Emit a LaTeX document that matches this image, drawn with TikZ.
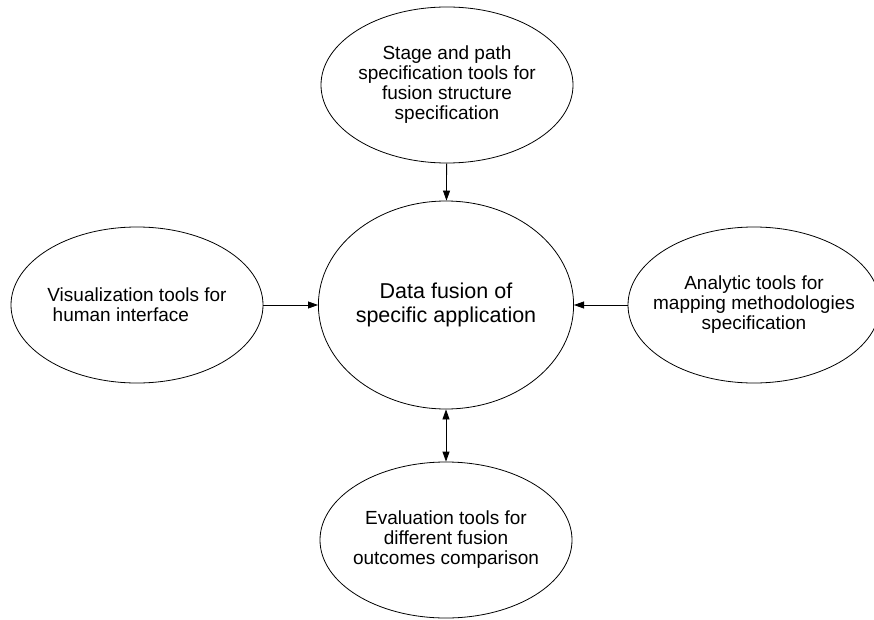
\documentclass[tikz,border=0pt]{standalone}
\usepackage{fontspec}
\setmainfont{Liberation Sans}
\usetikzlibrary{shapes.geometric,arrows.meta}

\tikzset{
    toolbox/.style={ellipse, draw, line width=0.8pt, inner sep=0pt, inner xsep=-40pt,
        minimum width=252pt, minimum height=156pt, align=center,
        font=\fontsize{19}{20}\selectfont},
    hubbox/.style={ellipse, draw, line width=0.8pt, inner sep=0pt,
        minimum width=225pt, minimum height=208pt, align=center,
        font=\fontsize{21.5}{24}\selectfont},
    link/.style={line width=0.8pt, -{Triangle[length=10pt,width=7pt]}}
}

\begin{document}
\begin{tikzpicture}[x=1pt, y=-1pt]
    \useasboundingbox (0, 0) rectangle (874, 620);

    % Draw the central ellipse
    \node[hubbox] (hub) at (446, 305) {Data fusion of\\specific application};

    % Draw the tool ellipses
    \node[toolbox] (stage) at (447, 85) {Stage and path\\specification tools for\\fusion structure\\specification};
    \node[toolbox, align=left] (visual) at (137, 305) {Visualization tools for\\\hspace{0.28em}human interface};
    \node[toolbox] (analytic) at (754, 305) {Analytic tools for\\mapping methodologies\\specification};
    \node[toolbox] (evaluation) at (446, 540) {Evaluation tools for\\different fusion\\outcomes comparison};

    % Draw the connectors
    \draw[link] (stage) -- (hub);
    \draw[link] (visual) -- (hub);
    \draw[link] (analytic) -- (hub);
    \draw[link, {Triangle[length=10pt,width=7pt]}-{Triangle[length=10pt,width=7pt]}] (hub) -- (evaluation);
\end{tikzpicture}
\end{document}
